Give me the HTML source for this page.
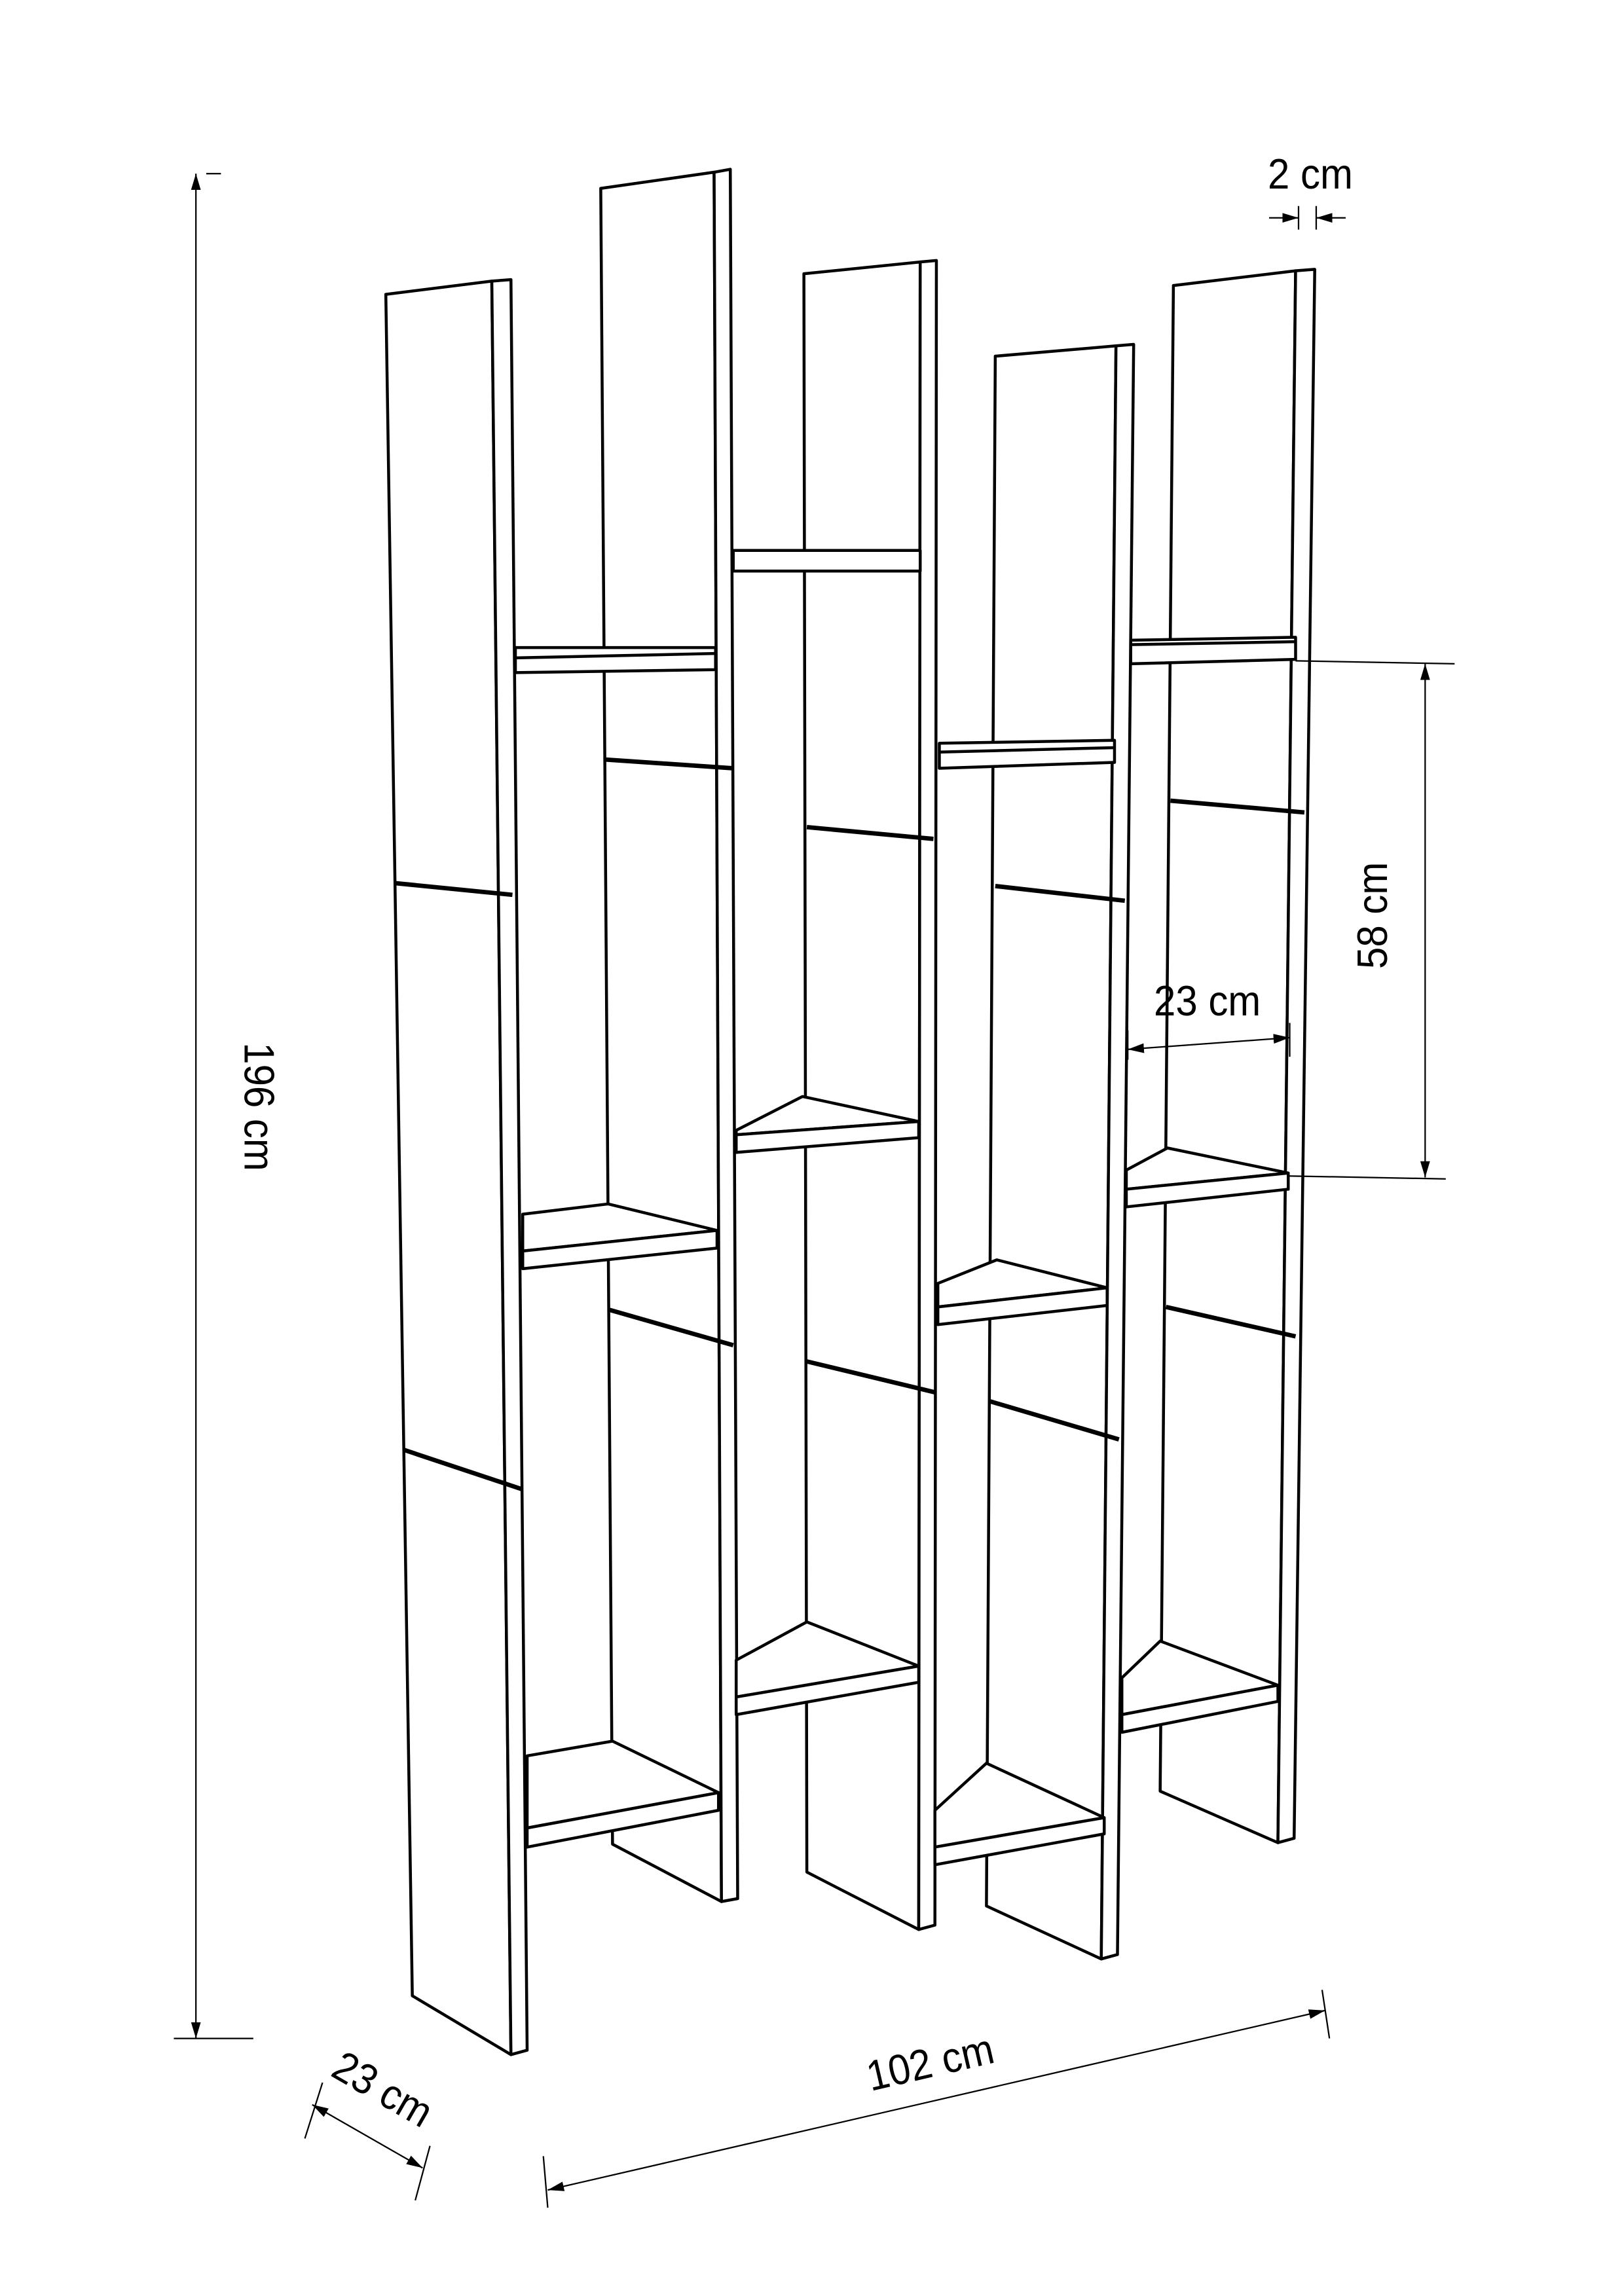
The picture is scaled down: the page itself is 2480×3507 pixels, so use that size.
<!DOCTYPE html>
<html><head><style>html,body{margin:0;padding:0;background:#fff}svg{display:block}</style></head>
<body>
<svg width="2480" height="3507" viewBox="0 0 1103 1560" xmlns="http://www.w3.org/2000/svg">
<defs>
<marker id="a" viewBox="0 0 10 10" refX="10" refY="5" markerWidth="11" markerHeight="11" orient="auto-start-reverse"><path d="M0,2 L10,5 L0,8z" fill="#000"/></marker>
</defs>
<rect width="1103" height="1560" fill="#fff"/>
<g fill="#fff" stroke="#000" stroke-width="2" stroke-linejoin="round">
<polygon points="262,200 334,191 347,1396 280,1356"/>
<polygon points="334,191 347,190 358,1393 347,1396"/>
<polygon points="408,128 485,117 490,1292 416,1253"/>
<polygon points="485,117 496,115 501,1290 490,1292"/>
<polygon points="546,186 625,178 624,1311 548,1272"/>
<polygon points="625,178 636,177 635,1308 624,1311"/>
<polygon points="676,242 758,235 748,1331 670,1295"/>
<polygon points="758,235 770,234 759,1328 748,1331"/>
<polygon points="797,194 880,184 868,1252 788,1217"/>
<polygon points="880,184 893,183 879,1249 868,1252"/>
<polygon points="350,440 486,440 486,455 350,457"/>
<line x1="350" y1="447" x2="486" y2="444"/>
<polygon points="498,374 625,374 625,388 498,388"/>
<polygon points="638,505 757,503 757,518 638,522"/>
<line x1="638" y1="511" x2="757" y2="508"/>
<polygon points="768,435 880,433 880,448 768,451"/>
<line x1="768" y1="438" x2="880" y2="436"/>
<polygon points="355,825 413,818 487,836 355,850"/>
<polygon points="355,850 487,836 487,848 355,862"/>
<polygon points="500,768 545,745 624,762 500,771"/>
<polygon points="500,771 624,762 624,773 500,783"/>
<polygon points="637,872 677,856 752,875 637,888"/>
<polygon points="637,888 752,875 752,887 637,900"/>
<polygon points="765,795 793,780 875,797 765,808"/>
<polygon points="765,808 875,797 875,808 765,820"/>
<polygon points="358,1193 416,1183 488,1218 358,1242"/>
<polygon points="358,1242 488,1218 488,1230 358,1255"/>
<polygon points="500,1128 548,1102 624,1132 500,1153"/>
<polygon points="500,1153 624,1132 624,1143 500,1165"/>
<polygon points="635,1230 670,1198 750,1235 635,1255"/>
<polygon points="635,1255 750,1235 750,1246 635,1267"/>
<polygon points="762,1140 788,1115 868,1145 762,1165"/>
<polygon points="762,1165 868,1145 868,1156 762,1177"/>
</g>
<g stroke="#000" stroke-width="3" fill="none">
<line x1="268" y1="600" x2="348" y2="608"/>
<line x1="274" y1="985" x2="355" y2="1012"/>
<line x1="410" y1="516" x2="498" y2="522"/>
<line x1="414" y1="890" x2="498" y2="914"/>
<line x1="548" y1="562" x2="634" y2="570"/>
<line x1="548" y1="925" x2="635" y2="946"/>
<line x1="676" y1="602" x2="764" y2="612"/>
<line x1="672" y1="952" x2="760" y2="978"/>
<line x1="795" y1="544" x2="886" y2="552"/>
<line x1="792" y1="888" x2="880" y2="908"/>
</g>
<g stroke="#000" stroke-width="1" fill="none">
<line x1="133" y1="118" x2="133" y2="1385" marker-start="url(#a)" marker-end="url(#a)"/>
<line x1="140" y1="118" x2="150" y2="118"/>
<line x1="118" y1="1385" x2="172" y2="1385"/>
<line x1="862" y1="148" x2="882" y2="148" marker-end="url(#a)"/>
<line x1="914" y1="148" x2="894" y2="148" marker-end="url(#a)"/>
<line x1="882" y1="140" x2="882" y2="156"/>
<line x1="894" y1="140" x2="894" y2="156"/>
<line x1="880" y1="449" x2="988" y2="451"/>
<line x1="875" y1="799" x2="982" y2="801"/>
<line x1="968" y1="451" x2="968" y2="800" marker-start="url(#a)" marker-end="url(#a)"/>
<line x1="766" y1="713" x2="876" y2="705" marker-start="url(#a)" marker-end="url(#a)"/>
<line x1="766" y1="700" x2="766" y2="720"/>
<line x1="876" y1="695" x2="876" y2="718"/>
<line x1="372" y1="1488" x2="900" y2="1366" marker-start="url(#a)" marker-end="url(#a)"/>
<line x1="369" y1="1465" x2="372" y2="1500"/>
<line x1="898" y1="1352" x2="903" y2="1385"/>
<line x1="212" y1="1430" x2="287" y2="1473" marker-start="url(#a)" marker-end="url(#a)"/>
<line x1="219" y1="1415" x2="207" y2="1453"/>
<line x1="292" y1="1458" x2="282" y2="1495"/>
</g>
<g font-family="Liberation Sans, sans-serif" font-size="29" fill="#000">
<text transform="translate(890,128) scale(0.92,1)" text-anchor="middle">2 cm</text>
<text transform="translate(820,690) scale(0.92,1)" text-anchor="middle">23 cm</text>
<text transform="translate(942,622) rotate(-90) scale(0.92,1)" text-anchor="middle">58 cm</text>
<text transform="translate(166,752) rotate(90) scale(0.92,1)" text-anchor="middle">196 cm</text>
<text transform="translate(634,1411) rotate(-13) scale(0.92,1)" text-anchor="middle">102 cm</text>
<text transform="translate(255,1428) rotate(30) scale(0.92,1)" text-anchor="middle">23 cm</text>
</g>
</svg>
</body></html>
